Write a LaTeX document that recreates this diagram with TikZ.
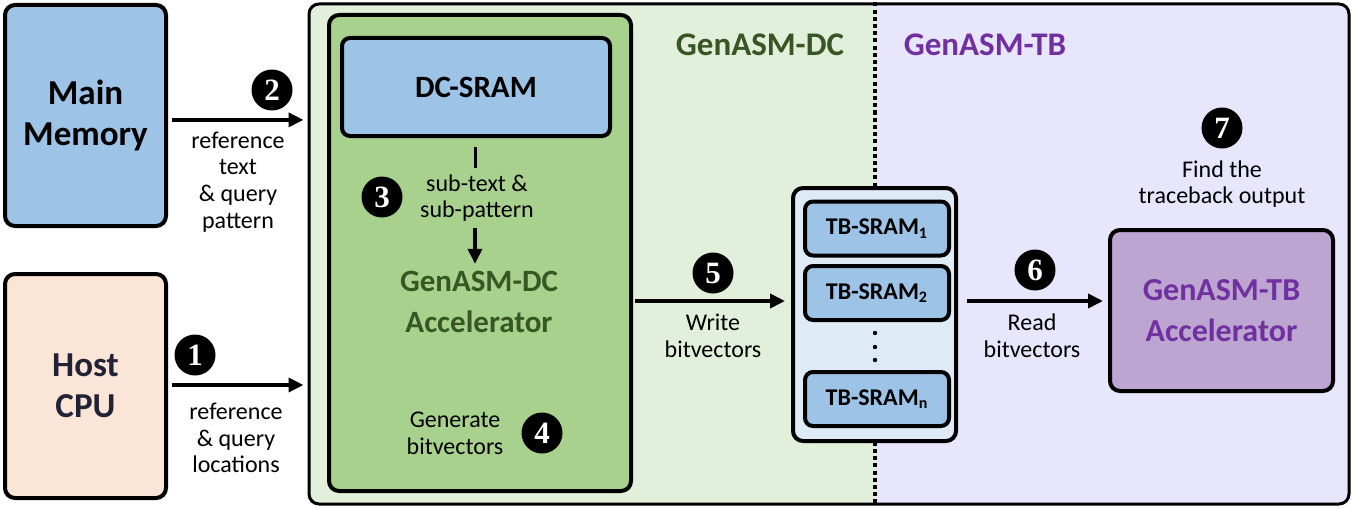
\documentclass[tikz,border=0pt]{standalone}
\usepackage{fontspec}
\setmainfont{Carlito}
\newfontfamily\numfont{Liberation Serif}
\usetikzlibrary{arrows.meta}

\definecolor{memblue}{HTML}{9DC3E6}
\definecolor{cpupeach}{HTML}{FBE5D6}
\definecolor{dcbg}{HTML}{E2EFDA}
\definecolor{tbbg}{HTML}{E7E6FC}
\definecolor{dcgreen}{HTML}{A9D18E}
\definecolor{tbgray}{HTML}{DEEBF7}
\definecolor{tbpurple}{HTML}{BCA5D1}
\definecolor{dcdark}{HTML}{375623}
\definecolor{tbdark}{HTML}{7030A0}
\definecolor{cpuink}{HTML}{222236}

\tikzset{
    box/.style={draw, line width=2pt, rounded corners=5pt, inner sep=0pt, align=center},
    sram/.style={box, fill=memblue, rounded corners=4pt},
    arr/.style={line width=1.8pt, -{Triangle[length=7.5pt,width=7pt]}},
    num/.style={circle, fill=black, text=white, inner sep=0pt, minimum size=20.5pt,
        font=\numfont\bfseries\fontsize{15.5}{15.5}\selectfont},
    lbl/.style={align=center, inner sep=0pt, font=\fontsize{12}{13.3}\selectfont},
    bigtxt/.style={font=\bfseries\fontsize{17.5}{20.3}\selectfont},
    acctxt/.style={align=center, inner sep=0pt, font=\bfseries\fontsize{15.5}{20.5}\selectfont},
    hdr/.style={inner sep=0pt, font=\bfseries\fontsize{16.5}{20}\selectfont},
    divider/.style={line width=2pt, dash pattern=on 2pt off 1.6pt}
}

\begin{document}
\begin{tikzpicture}[x=0.5pt,y=-0.5pt]
    \useasboundingbox (0,0) rectangle (1352,508);

    % host side
    \node[box, fill=memblue, minimum width=80.5pt, minimum height=110.5pt, bigtxt] (mem) at (85.5,115.5) {Main\\Memory};
    \node[box, fill=cpupeach, minimum width=80.5pt, minimum height=112pt, bigtxt, text=cpuink] (cpu) at (85.5,386) {Host\\CPU};

    % accelerator chip, two halves
    \begin{scope}
        \clip[rounded corners=5pt] (308,3) rectangle (1350,505);
        \fill[dcbg] (308,3) rectangle (874.5,505);
        \fill[tbbg] (874.5,3) rectangle (1350,505);
    \end{scope}
    \node[draw, line width=1.5pt, rounded corners=5pt, inner sep=0pt, minimum width=520pt, minimum height=250pt] (chip) at (829,254) {};
    \coordinate (split) at (874.5,254);
    \draw[divider] (split |- chip.north) -- (split |- chip.south);
    \node[hdr, text=dcdark] (dchdr) at (760,45) {GenASM-DC};
    \node[hdr, text=tbdark] (tbhdr) at (985,45) {GenASM-TB};

    % GenASM-DC
    \node[box, fill=dcgreen, minimum width=151pt, minimum height=238pt] (dcacc) at (480,253) {};
    \node[sram, minimum width=134pt, minimum height=49pt, font=\bfseries\fontsize{15.5}{18}\selectfont] (dcsram) at (476,87) {DC-SRAM};
    \node[lbl] (subtxt) at (477,198) {sub-text \&\\sub-pattern};
    \node[acctxt, text=dcdark] (dcname) at (479,302) {GenASM-DC\\Accelerator};
    \node[lbl] (gen) at (455,433) {Generate\\bitvectors};
    \draw[line width=1.8pt, shorten <=4.5pt] (dcsram.south -| subtxt.north) ++(-1.5,0) -- ++(0,30);
    \draw[arr, shorten <=3pt, shorten >=3.5pt] ([xshift=-1pt]subtxt.south) -- ([xshift=-1pt]subtxt.south |- dcname.north);

    % traceback SRAMs
    \node[box, fill=tbgray, minimum width=81.5pt, minimum height=126.5pt] (tbgrp) at (874.5,314.5) {};
    \foreach \i/\y/\s in {1/228.5/1, 2/293/2, 3/399/n}{
        \node[sram, minimum width=72pt, minimum height=27pt, font=\bfseries\fontsize{12}{14}\selectfont] (tb\i) at (877,\y) {TB-SRAM\textsubscript{\s}};
    }
    \foreach \y in {333,347,360}
        \fill (875,\y) circle (1.1pt);

    % GenASM-TB
    \node[box, fill=tbpurple, minimum width=111.5pt, minimum height=80.5pt, acctxt, text=tbdark, font=\bfseries\fontsize{16}{20.8}\selectfont] (tbacc) at (1221.5,310.5) {GenASM-TB\\Accelerator};
    \node[lbl] (find) at (1222,184) {Find the\\traceback output};

    % data flow
    \coordinate (bus) at (0,301);
    \draw[arr, shorten <=2pt, shorten >=2pt] ([yshift=-2.2pt]mem.east) -- ([yshift=-2.2pt]mem.east -| chip.west);
    \draw[arr, shorten <=2pt, shorten >=2pt] ([yshift=0.5pt]cpu.east) -- ([yshift=0.5pt]cpu.east -| chip.west);
    \draw[arr, shorten <=1pt, shorten >=3pt] (dcacc.east |- bus) -- (tbgrp.west |- bus);
    \draw[arr, shorten <=4.5pt, shorten >=2.5pt] (tbgrp.east |- bus) -- (tbacc.west |- bus);
    \node[lbl] (l2) at (238,182) {reference\\text\\\& query\\pattern};
    \node[lbl] (l1) at (236,438) {reference\\\& query\\locations};
    \node[lbl] (l5) at (713,336) {Write\\bitvectors};
    \node[lbl] (l6) at (1032,336) {Read\\bitvectors};

    % step numbers
    \foreach \n/\x/\y in {1/195/355, 2/272/90, 3/382/197, 4/542/433, 5/713/273, 6/1035/270, 7/1222/128}
        \node[num] (n\n) at (\x,\y) {\n};

\end{tikzpicture}
\end{document}
